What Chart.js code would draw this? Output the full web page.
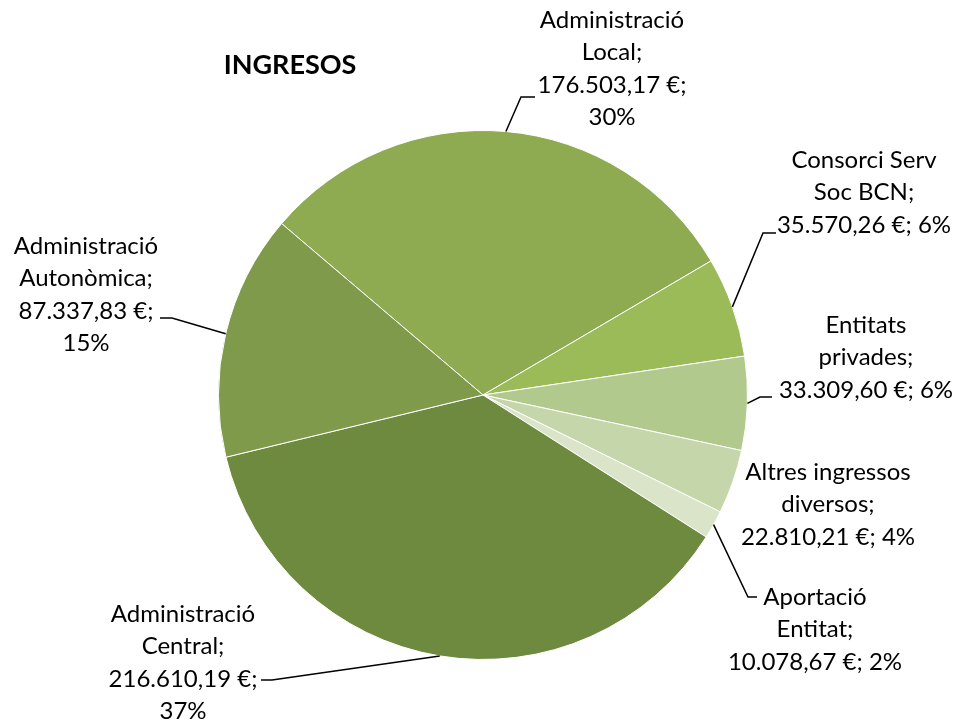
<!DOCTYPE html>
<html>
<head>
<meta charset="utf-8">
<script src="https://cdn.jsdelivr.net/npm/chart.js"></script>
<style>
  html, body { margin: 0; padding: 0; background: #ffffff; }
  #wrap { width: 959px; height: 722px; position: relative; }
</style>
</head>
<body>
<div id="wrap"><canvas id="myPieChart" width="959" height="722"></canvas></div>
<script>
// dades del gràfic
const categories = [
    "Administració\nLocal",
    "Consorci Serv\nSoc BCN",
    "Entitats\nprivades",
    "Altres ingressos\ndiversos",
    "Aportació\nEntitat",
    "Administració\nCentral",
    "Administració\nAutonòmica"
];
const values = [176503.17, 35570.26, 33309.60, 22810.21, 10078.67, 216610.19, 87337.83];
const sliceColors = ["#8FAB52", "#9BBB59", "#B1C98C", "#C5D6AA", "#D9E4C8", "#6E8A3E", "#7F9A4A"];

// disposició de les etiquetes (centre del text, colze i final de la línia guia)
const labelLayout = [
    { x: 612, y: 20, split: true, elbow: [521, 97], end: [535, 97] },
    { x: 864, y: 160, split: false, elbow: [763, 233], end: [776, 233] },
    { x: 866, y: 325, split: false, elbow: [760, 397], end: [772, 397] },
    { x: 828, y: 472, split: false, elbow: null, end: null },
    { x: 815, y: 597, split: false, elbow: [748, 597], end: [757, 597] },
    { x: 183, y: 614, split: true, elbow: [272, 680], end: [261, 680] },
    { x: 86, y: 246, split: true, elbow: [172, 318], end: [160, 318] }
];

const LABEL_FONT = "24px Lato";
const LINE_HEIGHT = 32.5;

/**
 * Formata un número a l'estil català: 176.503,17 €
 */
function formatEuro(v) {
    const parts = v.toFixed(2).split(".");
    const ent = parts[0].replace(/\B(?=(\d{3})+(?!\d))/g, ".");
    return `${ent},${parts[1]} €`;
}

const total = values.reduce((a, b) => a + b, 0);

/**
 * Construeix les línies de text de cada etiqueta
 */
function labelLines(i) {
    const lines = categories[i].split("\n");
    lines[lines.length - 1] += ";";
    const pct = Math.round(values[i] / total * 100) + "%";
    if (labelLayout[i].split) {
        lines.push(formatEuro(values[i]) + ";");
        lines.push(pct);
    } else {
        lines.push(formatEuro(values[i]) + "; " + pct);
    }
    return lines;
}

// plugin per dibuixar etiquetes i línies guia
const outsideLabels = {
    id: "outsideLabels",
    afterDatasetsDraw(chart) {
        const ctx = chart.ctx;
        const arcs = chart.getDatasetMeta(0).data;
        ctx.save();

        // títol
        ctx.fillStyle = "#000000";
        ctx.font = "bold 27px Lato";
        ctx.textAlign = "center";
        ctx.textBaseline = "middle";
        ctx.fillText("INGRESOS", 290, 65);

        arcs.forEach((arc, i) => {
            const lay = labelLayout[i];
            // línia guia
            if (lay.elbow) {
                const mid = (arc.startAngle + arc.endAngle) / 2;
                const sx = arc.x + Math.cos(mid) * arc.outerRadius;
                const sy = arc.y + Math.sin(mid) * arc.outerRadius;
                ctx.strokeStyle = "#000000";
                ctx.lineWidth = 1.5;
                ctx.beginPath();
                ctx.moveTo(sx, sy);
                ctx.lineTo(lay.elbow[0], lay.elbow[1]);
                ctx.lineTo(lay.end[0], lay.end[1]);
                ctx.stroke();
            }
            // text
            ctx.font = LABEL_FONT;
            ctx.fillStyle = "#000000";
            labelLines(i).forEach((line, k) => {
                ctx.fillText(line, lay.x, lay.y + k * LINE_HEIGHT);
            });
        });
        ctx.restore();
    }
};

var ctx = document.getElementById("myPieChart");
var myPieChart = new Chart(ctx, {
    type: 'pie',
    data: {
        labels: categories,
        datasets: [{
            data: values,
            backgroundColor: sliceColors,
            borderColor: "#ffffff",
            borderWidth: 1
        }]
    },
    options: {
        responsive: false,
        animation: false,
        rotation: -49.6,
        layout: {
            padding: { top: 130, bottom: 62, left: 218, right: 211 }
        },
        plugins: {
            legend: { display: false },
            tooltip: { enabled: false },
            title: { display: false }
        }
    },
    plugins: [outsideLabels]
});
</script>
</body>
</html>
